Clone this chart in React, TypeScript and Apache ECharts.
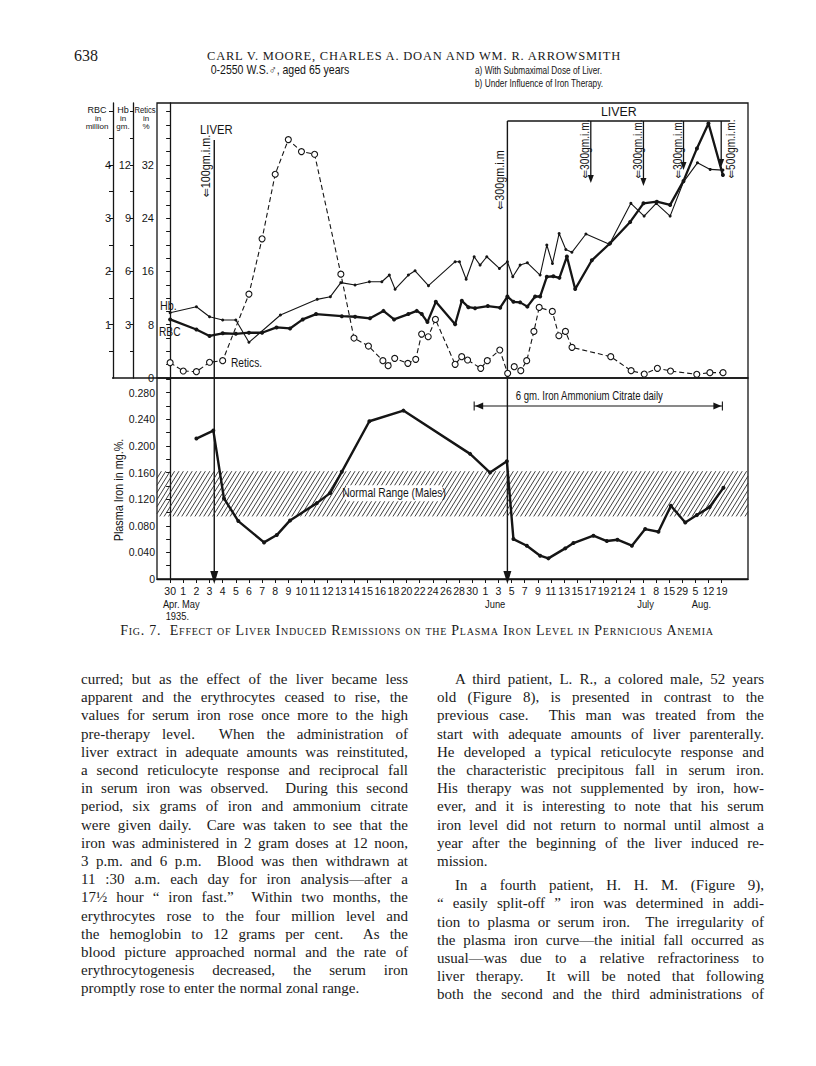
import React, { useEffect, useRef } from "react";
import * as echarts from "echarts";

// ---------- axis labels ----------
const dateLabels = ["30","1","2","3","4","5","6","7","8","9","10","11","12","13","14","15","16","18","20","22","24","26","28","30","1","3","5","7","9","11","13","15","17","19","21","24","1","8","15","29","5","12","19"];
const dateTickIdx = dateLabels.map((_, i) => i);
const monthLabels = [
  { text: "Apr. May", at: 0.85, row: 0 },
  { text: "1935.", at: 0.55, row: 1 },
  { text: "June", at: 24.75, row: 0 },
  { text: "July", at: 36.2, row: 0 },
  { text: "Aug.", at: 40.45, row: 0 },
];
const reticsLabels = [0, 8, 16, 24, 32];
const reticsTicks = [0, 2, 4, 6, 8, 10, 12, 14, 16, 18, 20, 22, 24, 26, 28, 30, 32, 34, 36, 38, 40];
const hbLabels = [3, 6, 9, 12];
const hbTicks = [1.5, 3, 4.5, 6, 7.5, 9, 10.5, 12, 13.5, 15];
const rbcLabels = [1, 2, 3, 4];
const rbcTicks = [0.5, 1, 1.5, 2, 2.5, 3, 3.5, 4, 4.5, 5];
const ironLabels = [0, 0.04, 0.08, 0.12, 0.16, 0.2, 0.24, 0.28];
const ironTicks = [0, 0.02, 0.04, 0.06, 0.08, 0.1, 0.12, 0.14, 0.16, 0.18, 0.2, 0.22, 0.24, 0.26, 0.28, 0.3];

// ---------- series (x = position in date-label units) ----------
const reticsData = [
  [0, 2.3], [1, 1.05], [2, 0.95], [3, 2.36], [4, 2.6], [6, 12.6], [7, 20.9], [8, 30.6], [9, 35.8], [10, 34.0],
  [11, 33.6], [13, 15.6], [14, 6.0], [15.1, 4.8], [16.2, 2.6], [16.6, 1.85], [17.1, 2.95], [18.1, 2.2], [18.7, 2.8],
  [19.15, 6.6], [19.65, 6.2], [20.2, 8.8], [21.7, 2.05], [22.2, 3.2], [22.65, 2.7], [23.65, 1.45], [24.15, 2.6],
  [25.1, 4.2], [25.7, 0.7], [26.2, 1.7], [26.7, 1.1], [27.15, 2.6], [27.7, 7.0], [28.1, 10.6], [29.1, 10.0],
  [29.6, 6.35], [30.1, 7.0], [30.6, 4.6], [33.55, 3.2], [35.1, 1.1], [36.1, 0.6], [37.1, 1.45], [38.1, 1.05],
  [40.1, 0.55], [41.1, 0.8], [42.1, 0.8],
];
const hbData = [
  [0, 3.68], [2, 4.01], [3, 3.45], [4, 3.27], [5, 3.27], [6, 2.01], [8.4, 3.55], [11.2, 4.43], [12.2, 4.58],
  [13, 5.37], [14.08, 5.24], [15.17, 5.42], [16.12, 5.42], [16.69, 5.8], [17.13, 5.0], [18.14, 5.8], [18.65, 6.04],
  [19.67, 5.2], [21.7, 6.55], [22.03, 6.55], [22.54, 5.56], [23.15, 6.83], [23.6, 6.36], [24.11, 6.83],
  [25.07, 6.17], [25.68, 6.55], [26.09, 5.7], [26.65, 6.36], [27.2, 6.49], [28.17, 5.8], [28.68, 7.49],
  [29.11, 6.45], [29.62, 8.14], [30.13, 7.24], [30.59, 7.08], [31.66, 8.11], [33.45, 7.54], [35.08, 9.84],
  [36.09, 9.12], [37.01, 9.84], [38.07, 9.12], [39.09, 11.05], [40.15, 12.12], [41.12, 11.75], [42.09, 11.71],
];
const rbcData = [
  [0, 1.1], [2, 0.91], [3, 0.79], [4, 0.84], [5, 0.83], [6, 0.85], [7, 0.85], [8.1, 0.95], [9.13, 0.93],
  [10.1, 1.1], [11.11, 1.2], [13.07, 1.16], [14.08, 1.15], [15.22, 1.12], [16.24, 1.26], [17.05, 1.1],
  [18.14, 1.2], [18.78, 1.26], [19.16, 1.2], [19.59, 1.05], [20.23, 1.43], [21.7, 1.01], [22.21, 1.45],
  [22.71, 1.33], [23.22, 1.31], [24.19, 1.35], [25.13, 1.32], [25.68, 1.53], [26.14, 1.43], [26.65, 1.42],
  [27.2, 1.34], [27.79, 1.53], [28.17, 1.53], [28.68, 1.9], [29.18, 1.91], [29.64, 1.88], [30.21, 2.28],
  [30.84, 1.67], [32.11, 2.21], [33.5, 2.53], [35.03, 2.93], [36.04, 3.28], [37.06, 3.31], [38.07, 3.25],
  [39.09, 3.7], [40.11, 4.31], [40.99, 4.78], [42.09, 3.81],
];
const plasmaIron = [
  [2, 0.211], [3.29, 0.223], [4.1, 0.121], [5.19, 0.087], [7.15, 0.055], [8.12, 0.066], [9.13, 0.088],
  [11.17, 0.114], [12.18, 0.129], [13.07, 0.161], [15.17, 0.237], [17.76, 0.253], [22.84, 0.188],
  [24.36, 0.16], [25.64, 0.177], [26.14, 0.06], [27.16, 0.05], [28.17, 0.035], [28.8, 0.031], [30.08, 0.046],
  [30.71, 0.054], [32.23, 0.065], [33.25, 0.057], [34.06, 0.059], [35.16, 0.05], [36.17, 0.075],
  [37.18, 0.071], [38.13, 0.11], [39.22, 0.085], [40.11, 0.096], [41.07, 0.108], [42.13, 0.137],
];
const normalRange = [0.094, 0.162];
const normalLabelAt = [17.05, 0.129];

// ---------- annotations ----------
const liverStart = [{ x: 3.36, label: "\u21d0100gm.i.m." }, { x: 25.68, label: "\u21d0300gm.i.m" }];
const liverBoxEnd = 42.64;
const liverInjections = [
  { x: 32.03, label: "\u21d0300gm.i.m.", side: -1, bottom: 183 },
  { x: 36.04, label: "\u21d0300gm.i.m.", side: -1, bottom: 186 },
  { x: 39.09, label: "\u21d0300gm.i.m.", side: -1, bottom: 170 },
  { x: 41.96, label: "\u21d0500gm.i.m.", side: 1, bottom: 167 },
];
const ironTherapy = { from: 23.15, to: 42.05, label: "6 gm. Iron Ammonium Citrate daily" };

const leftLines = [
  "curred; but as the effect of the liver became less",
  "apparent and the erythrocytes ceased to rise, the",
  "values for serum iron rose once more to the high",
  "pre-therapy level.  When the administration of",
  "liver extract in adequate amounts was reinstituted,",
  "a second reticulocyte response and reciprocal fall",
  "in serum iron was observed.  During this second",
  "period, six grams of iron and ammonium citrate",
  "were given daily.  Care was taken to see that the",
  "iron was administered in 2 gram doses at 12 noon,",
  "3 p.m. and 6 p.m.  Blood was then withdrawn at",
  "11 :30 a.m. each day for iron analysis\u2014after a",
  "17\u00bd hour \u201c iron fast.\u201d  Within two months, the",
  "erythrocytes rose to the four million level and",
  "the hemoglobin to 12 grams per cent.  As the",
  "blood picture approached normal and the rate of",
  "erythrocytogenesis decreased, the serum iron",
  "promptly rose to enter the normal zonal range.",
];
const rightPara1 = [
  "A third patient, L. R., a colored male, 52 years",
  "old (Figure 8), is presented in contrast to the",
  "previous case.  This man was treated from the",
  "start with adequate amounts of liver parenterally.",
  "He developed a typical reticulocyte response and",
  "the characteristic precipitous fall in serum iron.",
  "His therapy was not supplemented by iron, how-",
  "ever, and it is interesting to note that his serum",
  "iron level did not return to normal until almost a",
  "year after the beginning of the liver induced re-",
  "mission.",
];
const rightPara2 = [
  "In a fourth patient, H. H. M. (Figure 9),",
  "\u201c easily split-off \u201d iron was determined in addi-",
  "tion to plasma or serum iron.  The irregularity of",
  "the plasma iron curve\u2014the initial fall occurred as",
  "usual\u2014was due to a relative refractoriness to",
  "liver therapy.  It will be noted that following",
  "both the second and the third administrations of",
];

const hand = "'Liberation Sans', 'DejaVu Sans', Arial, sans-serif";
const serif = "'Liberation Serif', 'DejaVu Serif', serif";
const ink = "#151515";

function T(x: number, y: number, text: string, size = 11, align = "left", sx = 1, extra: any = {}) {
  return {
    type: "text", x, y, scaleX: sx, silent: true, ...extra,
    style: { text, fill: ink, font: `${size}px ${hand}`, textAlign: align, textVerticalAlign: "middle", align, verticalAlign: "middle" },
  };
}
function L(x1: number, y1: number, x2: number, y2: number, w = 1.2) {
  return { type: "line", silent: true, shape: { x1, y1, x2, y2 }, style: { stroke: ink, lineWidth: w } };
}
function P(points: number[][]) {
  return { type: "polygon", silent: true, shape: { points }, style: { fill: ink } };
}

function Line({ text, top, left, width, last, indent }: any) {
  return (
    <div style={{
      position: "absolute", top, left: left + (indent || 0), width: width - (indent || 0), height: 18,
      fontFamily: serif, fontSize: 15, lineHeight: "18px", color: "#1a1a1a",
      textAlign: "justify", textAlignLast: last ? "left" : "justify", whiteSpace: "pre-wrap",
    }}>{text}</div>
  );
}

export default function App() {
  const ref = useRef<HTMLDivElement>(null);
  useEffect(() => {
    const chart = echarts.init(ref.current!, null, { renderer: "svg" });
    const axisLine = { show: true, lineStyle: { color: ink, width: 1.3 } };
    const tickStyle = { color: ink, width: 1 };
    const option: any = {
      animation: false,
      backgroundColor: "#ffffff",
      grid: [
        { left: 157, top: 103, width: 591, height: 275, show: true, borderColor: ink, borderWidth: 1.3, backgroundColor: "transparent" },
        { left: 157, top: 378, width: 591, height: 201, show: true, borderColor: ink, borderWidth: 1.3, backgroundColor: "transparent" },
      ],
      xAxis: [
        { type: "value", gridIndex: 0, min: -1, max: 44, interval: 1, axisLine: { show: false }, axisTick: { show: false }, axisLabel: { show: false }, splitLine: { show: false } },
        {
          type: "value", gridIndex: 1, min: -1, max: 44, interval: 1,
          axisLine: axisLine,
          axisTick: { show: true, customValues: dateTickIdx, length: 4, lineStyle: tickStyle },
          axisLabel: {
            customValues: dateTickIdx, margin: 6, fontFamily: hand, fontSize: 10.5, color: ink,
            formatter: (v: number) => dateLabels[Math.round(v)] ?? "",
          },
          splitLine: { show: false },
        },
      ],
      yAxis: [
        {
          type: "value", gridIndex: 0, min: 0, max: 41.3, interval: 8, position: "left", offset: 0,
          axisLine, splitLine: { show: false },
          axisTick: { show: true, customValues: reticsTicks, length: 4, lineStyle: tickStyle },
          axisLabel: { customValues: reticsLabels, margin: 3, fontFamily: hand, fontSize: 11, color: ink },
        },
        {
          type: "value", gridIndex: 0, min: 0, max: 15.49, interval: 3, position: "left", offset: 24,
          axisLine, splitLine: { show: false },
          axisTick: { show: true, customValues: hbTicks, length: 3, lineStyle: tickStyle },
          axisLabel: { customValues: hbLabels, margin: 2, fontFamily: hand, fontSize: 11, color: ink },
        },
        {
          type: "value", gridIndex: 0, min: 0, max: 5.163, interval: 1, position: "left", offset: 44,
          axisLine, splitLine: { show: false },
          axisTick: { show: true, customValues: rbcTicks, length: 4, lineStyle: tickStyle },
          axisLabel: { customValues: rbcLabels, margin: 2, fontFamily: hand, fontSize: 11, color: ink },
        },
        {
          type: "value", gridIndex: 1, min: 0, max: 0.302, interval: 0.04, position: "left",
          axisLine, splitLine: { show: false },
          axisTick: { show: true, customValues: ironTicks, length: 4, lineStyle: tickStyle },
          axisLabel: {
            customValues: ironLabels, margin: 2, fontFamily: hand, fontSize: 10.5, color: ink,
            formatter: (v: number) => (v === 0 ? "0" : v.toFixed(3)),
          },
        },
      ],
      series: [
        {
          name: "Normal range", type: "custom", xAxisIndex: 1, yAxisIndex: 3, silent: true, z: 1,
          data: [[normalRange[0], normalRange[1]]],
          renderItem: (params: any, api: any) => {
            const cs = params.coordSys;
            const lo = api.value(0), hi = api.value(1);
            const top = api.coord([0, hi])[1];
            const bottom = api.coord([0, lo])[1];
            const left = cs.x, right = cs.x + cs.width;
            const h = bottom - top;
            const k = 0.62, step = 4.4;
            const children: any[] = [];
            for (let b = left - h * k; b < right; b += step) {
              let x0 = b, y0 = bottom, x1 = b + h * k, y1 = top;
              if (x0 < left) { y0 = bottom - (left - b) / k; x0 = left; }
              if (x1 > right) { y1 = bottom - (right - b) / k; x1 = right; }
              if (x1 <= x0) continue;
              children.push({ type: "line", shape: { x1: x0, y1: y0, x2: x1, y2: y1 }, style: { stroke: "#2a2a2a", lineWidth: 0.9 } });
            }
            const c = api.coord(normalLabelAt);
            children.push({ type: "rect", shape: { x: c[0] - 48, y: c[1] - 8, width: 96, height: 16 }, style: { fill: "#fff" } });
            children.push({
              type: "text", x: c[0], y: c[1], scaleX: 0.86,
              style: { text: "Normal Range (Males)", fill: ink, font: `12px ${hand}`, textAlign: "center", textVerticalAlign: "middle", align: "center", verticalAlign: "middle" },
            });
            return { type: "group", children };
          },
        },
        {
          name: "Hb", type: "line", xAxisIndex: 0, yAxisIndex: 1, data: hbData, z: 3,
          symbol: "circle", symbolSize: 3, lineStyle: { color: ink, width: 1.1 }, itemStyle: { color: ink },
        },
        {
          name: "RBC", type: "line", xAxisIndex: 0, yAxisIndex: 2, data: rbcData, z: 3,
          symbol: "circle", symbolSize: 4, lineStyle: { color: ink, width: 2.3 }, itemStyle: { color: ink },
        },
        {
          name: "Retics", type: "line", xAxisIndex: 0, yAxisIndex: 0, data: reticsData, z: 4,
          symbol: "circle", symbolSize: 6, lineStyle: { color: ink, width: 1.1, type: [5, 3] },
          itemStyle: { color: "#fff", borderColor: ink, borderWidth: 1.1 },
        },
        {
          name: "Plasma iron", type: "line", xAxisIndex: 1, yAxisIndex: 3, data: plasmaIron, z: 3,
          symbol: "circle", symbolSize: 4, lineStyle: { color: ink, width: 2.4 }, itemStyle: { color: ink },
        },
      ],
    };
    chart.setOption(option);

    const X = (v: number) => chart.convertToPixel({ xAxisIndex: 1 }, v) as number;
    const g: any[] = [];
    // titles
    g.push(T(280, 70, "0-2550 W.S.\u2642, aged 65 years", 12, "center", 0.88));
    g.push(T(475, 70, "a) With Submaximal Dose of Liver.", 11.5, "left", 0.72));
    g.push(T(475, 83, "b) Under Influence of Iron Therapy.", 11.5, "left", 0.72));
    // axis titles
    g.push(T(97, 110, "RBC", 9, "center"), T(98, 118, "in", 8, "center"), T(97, 126, "million", 8, "center"));
    g.push(T(123, 110, "Hb", 9, "center"), T(123, 118, "in", 8, "center"), T(123, 126, "gm.", 8, "center"));
    g.push(T(145, 110, "Retics", 9, "center", 0.85), T(146, 118, "in", 8, "center"), T(146, 126, "%", 8, "center"));
    g.push(L(112, 378, 157, 378, 1.3));
    g.push(T(119, 490, "Plasma Iron in mg.%.", 12, "center", 0.9, { rotation: Math.PI / 2 }));
    // series labels
    g.push(T(160, 306, "Hb.", 12, "left", 0.9), T(159, 332, "RBC", 12, "left", 0.85), T(231, 363, "Retics.", 12, "left", 0.85));
    // month labels
    monthLabels.forEach((m) => g.push(T(X(m.at), m.row === 0 ? 604 : 616, m.text, 11, "center", 0.85)));
    // liver start lines
    liverStart.forEach((d, i) => {
      const x = X(d.x);
      const yTop = i === 0 ? 140 : 121;
      g.push(L(x, yTop, x, 572, 1.4));
      g.push(P([[x - 4, 571], [x + 4, 571], [x, 584]]));
      g.push(T(x - 8, i === 0 ? 166 : 180, d.label, 12, "center", 0.9, { rotation: Math.PI / 2 }));
    });
    g.push(T(X(liverStart[0].x) + 2, 130, "LIVER", 12.5, "center", 0.9));
    const bx0 = X(liverStart[1].x), bx1 = X(liverBoxEnd);
    g.push(L(bx0, 121, bx1, 121, 1.4));
    g.push(T((bx0 + bx1) / 2, 112, "LIVER", 13, "center", 0.95));
    liverInjections.forEach((d) => {
      const x = X(d.x);
      g.push(L(x, 121, x, d.bottom - 6, 1.3));
      g.push(P([[x - 3, d.bottom - 8], [x + 3, d.bottom - 8], [x, d.bottom]]));
      g.push(T(x + (d.side < 0 ? -6 : 9), 149, d.label, 12, "center", 0.85, { rotation: Math.PI / 2 }));
    });
    // iron therapy arrow
    const ia = X(ironTherapy.from), ib = X(ironTherapy.to);
    g.push(L(ia, 406, ib, 406, 1.1));
    g.push(L(ia, 401.5, ia, 410.5, 1.1), L(ib, 401.5, ib, 410.5, 1.1));
    g.push(P([[ia + 1, 406], [ia + 9, 402.5], [ia + 9, 409.5]]));
    g.push(P([[ib - 1, 406], [ib - 9, 402.5], [ib - 9, 409.5]]));
    g.push(T((ia + ib) / 2 - 9, 396, ironTherapy.label, 12, "center", 0.8));
    chart.setOption({ graphic: { elements: g } });
    return () => chart.dispose();
  }, []);

  const colL = 81, colR = 437, colW = 327, top0 = 670, lh = 18.2;
  return (
    <div style={{ position: "absolute", left: 0, top: 0, width: 816, height: 1066, background: "#fff", overflow: "hidden" }}>
      <div ref={ref} style={{ position: "absolute", left: 0, top: 0, width: 816, height: 1066 }} />
      <div style={{ position: "absolute", left: 74, top: 47, fontFamily: serif, fontSize: 16, color: "#1a1a1a" }}>638</div>
      <div style={{ position: "absolute", left: 207, top: 49, fontFamily: serif, fontSize: 12.5, letterSpacing: 0.8, color: "#1a1a1a", whiteSpace: "nowrap" }}>
        CARL V. MOORE, CHARLES A. DOAN AND WM. R. ARROWSMITH
      </div>
      <div style={{ position: "absolute", left: 0, width: 834, top: 623, textAlign: "center", fontFamily: serif, fontSize: 14, fontVariant: "small-caps", letterSpacing: 0.75, color: "#1a1a1a", whiteSpace: "nowrap" }}>
        Fig. 7.&nbsp; Effect of Liver Induced Remissions on the Plasma Iron Level in Pernicious Anemia
      </div>
      {leftLines.map((t, i) => (
        <Line key={"l" + i} text={t} top={top0 + i * lh} left={colL} width={colW} last={i === leftLines.length - 1} />
      ))}
      {rightPara1.map((t, i) => (
        <Line key={"r" + i} text={t} top={top0 + i * lh} left={colR} width={colW} last={i === rightPara1.length - 1} indent={i === 0 ? 18 : 0} />
      ))}
      {rightPara2.map((t, i) => (
        <Line key={"s" + i} text={t} top={top0 + 11 * lh + 6 + i * lh} left={colR} width={colW} last={false} indent={i === 0 ? 18 : 0} />
      ))}
    </div>
  );
}
